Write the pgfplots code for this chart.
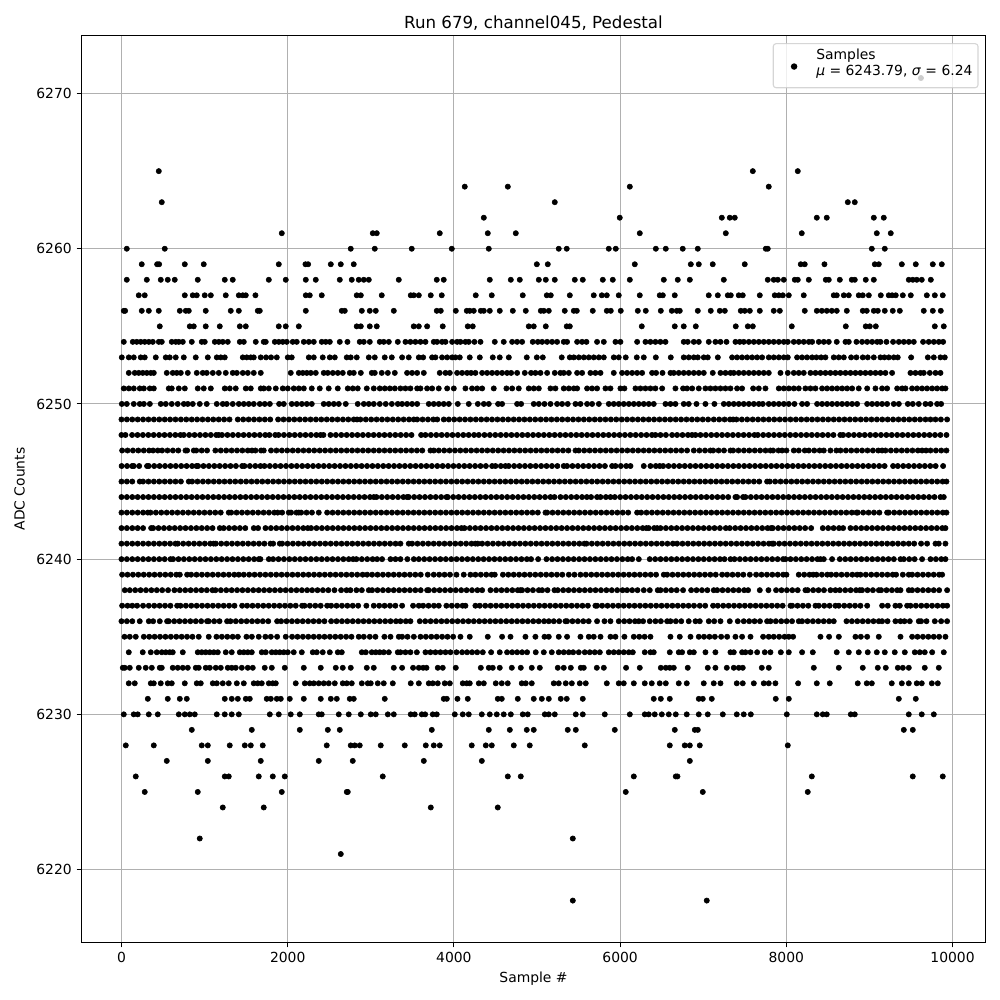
\documentclass[border=0pt]{standalone}
\usepackage{fontspec}
\setmainfont{DejaVu Sans}
\usepackage{pgfplots}
\pgfplotsset{compat=1.18}
\pgfplotsset{s/.style={only marks,mark=*,mark size=1.9pt,black,forget plot},table/header=false,table/x index=0}
\begin{document}
\begin{tikzpicture}
\useasboundingbox (0,0) rectangle (720pt,720pt);
\begin{axis}[at={(58.68pt,41.4pt)},anchor=south west,scale only axis,width=650.88pt,height=653.04pt,
xmin=-481,xmax=10397,ymin=6215.3,ymax=6273.74,scaled ticks=false,
xtick={0,2000,4000,6000,8000,10000},ytick={6220,6230,6240,6250,6260,6270},
tick label style={font=\fontsize{10}{12}\selectfont,/pgf/number format/assume math mode=true,/pgf/number format/1000 sep={}},
grid=major,grid style={color=black!31,line width=0.72pt},
axis line style={line width=0.72pt},tick style={line width=0.72pt,black},tick align=outside,tick pos=lower,major tick length=3.5pt,
title={\fontsize{12}{14}\selectfont Run 679, channel045, Pedestal},title style={yshift=-6pt},
xlabel={\fontsize{10}{12}\selectfont Sample \#},ylabel={\fontsize{10}{12}\selectfont ADC Counts},ylabel style={yshift=1.4pt},
legend cell align=left,
legend image code/.code={\path[draw=none] (0pt,0pt) -- (27pt,0pt);\path[draw=none,fill=black] plot[mark=*,mark size=1.9pt,mark options={draw=black,fill=black,opacity=1,fill opacity=1,draw opacity=1}] coordinates {(13pt,-0.6pt)};},
legend style={at={(1,1)},anchor=north east,xshift=-5pt,yshift=-5.5pt,draw=black!20,line width=0.8pt,rounded corners=2pt,fill=white,fill opacity=0.8,draw opacity=0.8,text opacity=1,font=\fontsize{10}{12}\selectfont,inner xsep=2pt,inner ysep=0.8pt,nodes={text depth=11.6pt}}]
\addlegendimage{only marks,mark=*,mark size=1.9pt,black}
\addlegendentry{\begin{tabular}{@{}l@{}}Samples\\\textit{μ} = 6243.79, \textit{σ} = 6.24\end{tabular}}
\addplot[s] table[y expr=6271]{
9620
};
\addplot[s] table[y expr=6265]{
449
7597
8138
};
\addplot[s] table[y expr=6264]{
4131
4649
6117
7789
};
\addplot[s] table[y expr=6263]{
485
5214
8740
8824
};
\addplot[s] table[y expr=6262]{
4360
5996
7224
7320
7380
8367
8487
9053
9173
};
\addplot[s] table[y expr=6261]{
1929
3024
3072
3830
4408
4745
6237
7272
8186
9089
9257
};
\addplot[s] table[y expr=6260]{
64
521
2759
3048
3493
3975
4420
5262
5358
5864
5948
6430
6550
6754
6935
7753
7777
9029
9185
};
\addplot[s] table[y expr=6259]{
244
429
453
762
990
1893
2214
2246
2519
2639
2795
4998
5130
6177
6851
6947
7115
7500
8174
8222
8459
9065
9113
9390
9558
9763
9871
};
\addplot[s] table[y expr=6258]{
64
305
473
557
641
918
1243
1339
1773
1977
2218
2338
2627
2771
2855
2916
2976
3337
3794
3878
4432
4685
4793
5022
5106
5214
5455
5551
5792
5912
6117
6526
6694
6839
7248
7777
7849
7898
7970
8102
8138
8271
8475
8511
8644
8788
8824
8956
9053
9474
9522
9570
9630
9739
};
\addplot[s] table[y expr=6257]{
208
280
762
858
906
1002
1075
1255
1412
1460
1496
1612
2218
2266
2410
2831
2880
3132
3481
3517
3578
3722
3854
4263
4456
4829
5118
5166
5395
5683
5780
5840
5984
6237
6477
6514
6658
7067
7176
7296
7332
7428
7476
7681
7861
7910
7958
8030
8210
8571
8607
8692
8752
8872
8920
8993
9137
9233
9273
9317
9402
9498
9691
9787
9883
};
\addplot[s] table[y expr=6256]{
28
44
244
329
449
702
774
810
1014
1315
1412
1640
1664
2218
2651
2687
2892
2988
3060
3277
3794
3842
4023
4155
4191
4239
4324
4360
4432
4552
4709
4865
5046
5082
5142
5334
5443
5479
5671
5840
5888
6008
6213
6309
6490
6622
6682
6718
6935
7091
7200
7260
7452
7500
7561
7681
7849
7922
8222
8367
8427
8487
8547
8607
8728
8920
8968
9053
9101
9185
9281
9366
9654
9763
9859
};
\addplot[s] table[y expr=6255]{
461
822
870
1014
1183
1424
1496
1893
1977
2134
2831
2880
2988
3072
3517
3578
3678
3866
4167
4227
4901
4961
5106
5358
5395
6261
6658
6766
6911
7392
7537
7597
8066
8716
8956
9005
9077
9787
9895
};
\addplot[s] table[y expr=6254]{
28
136
184
232
280
329
377
449
485
605
653
690
738
846
966
1002
1123
1171
1219
1279
1424
1472
1616
1712
1736
1845
1893
1941
1989
2061
2109
2194
2254
2314
2410
2458
2507
2627
2719
2867
2916
2988
3108
3156
3217
3325
3417
3477
3537
3598
3658
3758
3798
3858
3899
3979
4039
4079
4139
4179
4247
4320
4492
4600
4701
4761
4821
4949
5010
5062
5122
5182
5242
5322
5362
5483
5543
5595
5723
5804
5944
6004
6205
6305
6365
6425
6485
6546
6766
6814
6887
6947
7067
7147
7208
7280
7388
7440
7488
7549
7609
7669
7729
7789
7849
7910
7970
8018
8090
8150
8210
8271
8311
8391
8451
8511
8607
8712
8752
8844
8912
8973
9033
9093
9133
9205
9285
9354
9414
9474
9534
9646
9714
9775
9835
9887
};
\addplot[s] table[y expr=6253]{
4
88
148
232
280
413
533
581
653
750
894
1039
1147
1195
1243
1460
1508
1556
1592
1676
1740
1800
1869
2001
2049
2254
2314
2422
2507
2567
2711
2759
2831
2976
3048
3168
3253
3377
3457
3578
3630
3738
3778
3858
3919
3979
4019
4071
4191
4312
4468
4552
4661
4877
4998
5070
5298
5395
5443
5503
5563
5623
5683
5744
5804
5924
5984
6068
6201
6285
6430
6610
6766
6826
6887
6935
7007
7055
7176
7348
7408
7468
7529
7589
7649
7709
7789
7849
7910
7970
8018
8130
8190
8250
8311
8363
8419
8471
8571
8631
8692
8780
8844
8920
8980
9053
9133
9181
9233
9293
9341
9502
9703
9775
9855
9907
};
\addplot[s] table[y expr=6252]{
88
160
208
256
305
353
389
545
617
665
714
798
906
978
1026
1099
1171
1255
1339
1388
1460
1520
1592
1676
2037
2134
2182
2230
2278
2338
2434
2482
2543
2603
2663
2747
2795
2880
3012
3048
3132
3205
3289
3437
3497
3558
3638
3830
3899
3951
4039
4099
4159
4207
4259
4340
4400
4460
4520
4580
4640
4689
4761
4853
4929
4981
5042
5122
5214
5282
5322
5383
5483
5543
5643
5703
5764
5924
6024
6084
6145
6205
6265
6385
6433
6510
6606
6646
6706
6766
6826
6887
6947
7007
7115
7208
7268
7328
7368
7428
7488
7549
7609
7669
7729
7789
7930
8018
8090
8150
8210
8291
8351
8411
8471
8531
8591
8651
8712
8772
8832
8892
8952
9013
9073
9133
9193
9273
9494
9554
9614
9654
9727
9795
9855
};
\addplot[s] table[y expr=6251]{
28
88
148
220
269
341
389
569
605
690
762
918
990
1075
1243
1303
1375
1496
1556
1676
1712
1773
1857
1941
2001
2073
2134
2194
2290
2386
2494
2603
2723
2783
2843
2952
3036
3108
3168
3229
3289
3357
3417
3477
3558
3598
3678
3738
3818
3919
3999
4139
4219
4280
4340
4480
4632
4701
4781
4901
4961
5022
5162
5222
5322
5383
5443
5483
5603
5663
5723
5824
5884
6004
6052
6185
6245
6305
6365
6425
6506
6666
6758
6806
6867
6947
7027
7087
7147
7208
7268
7328
7408
7468
7601
7669
7749
7910
7970
8030
8090
8150
8230
8291
8351
8431
8491
8551
8612
8672
8732
8792
8872
8973
9073
9153
9213
9334
9394
9434
9514
9574
9634
9694
9755
9815
9875
9915
};
\addplot[s] table[y expr=6250]{
4
64
148
220
269
341
473
533
605
677
750
798
858
942
1026
1147
1219
1267
1339
1412
1472
1532
1592
1664
1724
1785
1897
1953
2049
2109
2170
2230
2290
2434
2494
2555
2615
2699
2843
2916
2976
3036
3108
3180
3253
3325
3377
3437
3497
3558
3698
3758
3818
3878
3939
4047
4179
4288
4360
4420
4532
4580
4761
4809
4961
5022
5090
5162
5242
5302
5370
5463
5523
5603
5663
5744
5864
5924
5984
6044
6105
6165
6225
6285
6345
6405
6546
6606
6666
6766
6826
6919
7027
7135
7248
7308
7368
7428
7488
7549
7609
7669
7717
7789
7849
7910
7970
8030
8098
8190
8250
8371
8431
8491
8551
8612
8672
8732
8792
8852
8973
9033
9093
9153
9213
9293
9354
9462
9522
9594
9675
9735
9815
9863
};
\addplot[s] table[y expr=6249]{
0
65
130
195
260
325
390
455
520
585
650
715
780
845
910
975
1040
1105
1170
1235
1300
1400
1465
1530
1595
1660
1725
1790
1885
1950
2015
2080
2145
2210
2275
2340
2405
2470
2535
2600
2665
2730
2795
2835
2875
2940
3005
3070
3135
3200
3265
3330
3395
3460
3517
3558
3623
3688
3753
3800
3878
3939
4004
4069
4134
4199
4264
4329
4394
4459
4524
4589
4654
4719
4784
4849
4914
4979
5044
5109
5174
5239
5304
5369
5434
5499
5564
5629
5694
5759
5824
5889
5954
6019
6084
6149
6214
6279
6344
6409
6474
6539
6604
6669
6734
6799
6864
6929
6994
7059
7127
7192
7257
7322
7360
7400
7465
7530
7595
7660
7725
7790
7855
7920
7985
8050
8115
8180
8245
8310
8375
8440
8505
8570
8635
8700
8765
8830
8895
8960
9025
9090
9155
9220
9285
9350
9415
9480
9545
9610
9675
9735
9795
9860
9935
};
\addplot[s] table[y expr=6248]{
0
48
128
193
258
323
388
453
518
583
648
710
750
815
880
945
1010
1075
1140
1170
1210
1275
1340
1405
1470
1535
1600
1665
1730
1780
1850
1890
1955
2020
2085
2150
2215
2280
2345
2395
2430
2515
2580
2645
2710
2775
2840
2905
2970
3035
3100
3165
3230
3295
3360
3425
3490
3606
3658
3723
3788
3853
3918
3983
4048
4113
4178
4243
4300
4368
4433
4498
4563
4628
4693
4758
4823
4888
4953
5018
5083
5148
5213
5278
5343
5408
5473
5538
5603
5668
5733
5798
5863
5928
5993
6058
6123
6188
6253
6318
6383
6425
6486
6551
6626
6686
6751
6816
6866
6907
6967
7032
7097
7162
7227
7292
7357
7422
7487
7552
7617
7657
7722
7787
7852
7917
7982
8047
8112
8177
8242
8307
8372
8437
8502
8567
8650
8684
8749
8814
8879
8944
9009
9074
9139
9204
9269
9334
9399
9464
9529
9594
9659
9724
9789
9854
9927
};
\addplot[s] table[y expr=6247]{
8
73
138
203
268
333
381
437
489
554
619
684
770
790
870
900
965
1030
1130
1195
1260
1325
1390
1455
1520
1570
1612
1680
1712
1800
1865
1930
1995
2060
2125
2190
2255
2320
2385
2450
2515
2580
2645
2710
2775
2840
2905
2970
3035
3100
3165
3230
3295
3360
3425
3490
3555
3620
3718
3758
3818
3883
3948
4013
4078
4143
4208
4273
4338
4403
4468
4533
4598
4663
4728
4793
4858
4923
4988
5053
5118
5183
5248
5313
5378
5463
5503
5568
5633
5698
5763
5828
5893
5958
6023
6088
6153
6218
6283
6348
6413
6478
6543
6608
6673
6738
6806
6887
6955
7022
7087
7120
7185
7250
7328
7360
7425
7490
7555
7620
7685
7750
7809
7841
7906
7950
8002
8090
8150
8222
8271
8336
8401
8451
8531
8603
8652
8717
8782
8847
8912
8977
9042
9107
9153
9193
9258
9323
9388
9453
9518
9583
9634
9682
9735
9800
9865
9927
};
\addplot[s] table[y expr=6246]{
2
67
128
148
213
308
329
394
459
524
589
654
719
784
849
902
922
987
1052
1117
1182
1247
1312
1377
1452
1480
1545
1610
1672
1720
1785
1850
1915
1980
2045
2110
2175
2240
2305
2370
2435
2500
2565
2630
2695
2760
2825
2890
2955
3020
3085
3150
3215
3280
3345
3410
3475
3540
3605
3670
3735
3800
3865
3930
3995
4060
4125
4190
4255
4320
4385
4460
4500
4565
4620
4660
4725
4790
4855
4920
4985
5050
5115
5180
5245
5322
5362
5427
5492
5557
5622
5687
5752
5817
5904
5944
6009
6074
6125
6285
6365
6430
6477
6518
6583
6648
6713
6778
6843
6908
6973
7038
7103
7168
7233
7298
7363
7428
7493
7558
7623
7688
7753
7818
7883
7948
8013
8078
8143
8208
8273
8338
8403
8468
8533
8598
8663
8728
8793
8858
8923
8988
9053
9118
9183
9285
9342
9407
9472
9537
9602
9667
9732
9797
9887
};
\addplot[s] table[y expr=6245]{
0
65
130
220
260
325
390
455
520
585
650
715
810
850
915
980
1045
1110
1175
1240
1305
1370
1435
1500
1565
1630
1695
1760
1825
1890
1955
2020
2085
2150
2215
2280
2345
2410
2475
2540
2605
2670
2735
2800
2865
2930
2995
3060
3125
3190
3255
3320
3385
3450
3515
3580
3645
3710
3775
3840
3905
3970
4035
4100
4165
4230
4295
4360
4425
4490
4555
4620
4685
4750
4815
4880
4945
5010
5075
5140
5205
5270
5335
5400
5465
5530
5595
5660
5725
5790
5855
5920
5985
6050
6115
6180
6245
6310
6375
6440
6505
6570
6635
6700
6765
6830
6895
6960
7025
7090
7155
7220
7285
7350
7415
7480
7545
7610
7675
7769
7801
7866
7931
7996
8061
8126
8191
8256
8321
8386
8451
8516
8581
8646
8711
8776
8841
8906
8971
9036
9101
9166
9231
9296
9361
9426
9491
9556
9621
9686
9751
9816
9881
9927
};
\addplot[s] table[y expr=6244]{
0
65
130
195
260
325
390
455
520
585
650
715
780
845
910
975
1040
1105
1170
1235
1300
1365
1430
1495
1560
1625
1690
1755
1820
1885
1950
2015
2080
2145
2210
2275
2340
2405
2470
2535
2600
2665
2730
2795
2860
2925
2990
3036
3068
3133
3198
3263
3328
3393
3437
3457
3522
3587
3652
3717
3782
3847
3910
3927
3992
4057
4122
4187
4252
4317
4382
4447
4512
4577
4642
4707
4772
4837
4902
4967
5032
5097
5162
5210
5282
5347
5412
5477
5542
5600
5651
5723
5764
5829
5884
5936
6001
6066
6131
6196
6261
6326
6391
6456
6521
6586
6651
6716
6781
6846
6911
6976
7041
7106
7171
7236
7301
7388
7408
7480
7508
7573
7638
7703
7768
7833
7898
7963
8028
8093
8158
8223
8288
8353
8418
8483
8548
8613
8678
8743
8808
8873
8938
9003
9068
9133
9198
9263
9328
9393
9458
9523
9588
9653
9718
9783
9855
9895
};
\addplot[s] table[y expr=6243]{
0
65
130
195
260
317
349
414
479
544
609
674
739
804
869
934
999
1064
1129
1194
1291
1320
1385
1450
1515
1580
1645
1710
1775
1840
1880
1933
2013
2041
2106
2134
2162
2227
2292
2374
2475
2540
2605
2670
2735
2800
2865
2930
2995
3060
3125
3190
3255
3320
3385
3450
3515
3580
3645
3710
3775
3840
3905
3970
4035
4100
4165
4230
4295
4360
4425
4490
4555
4620
4685
4750
4815
4880
4945
5010
5102
5122
5187
5252
5317
5382
5447
5512
5577
5642
5707
5772
5837
5902
5967
6032
6097
6205
6253
6318
6383
6448
6513
6578
6643
6708
6773
6838
6903
6968
7033
7098
7163
7228
7293
7358
7423
7488
7553
7618
7683
7748
7813
7878
7943
8008
8073
8138
8203
8268
8333
8398
8463
8528
8593
8658
8723
8788
8844
8860
8925
8990
9055
9120
9213
9233
9298
9363
9428
9493
9558
9623
9688
9753
9818
9883
9927
};
\addplot[s] table[y expr=6242]{
0
65
130
195
260
357
381
446
511
576
641
706
771
836
901
966
1031
1096
1183
1230
1295
1360
1425
1490
1592
1644
1733
1798
1863
1928
1993
2058
2123
2188
2242
2282
2347
2412
2477
2542
2607
2672
2737
2802
2867
2932
2997
3062
3127
3192
3257
3322
3387
3452
3517
3582
3647
3712
3777
3842
3907
3972
4037
4091
4127
4192
4257
4322
4387
4452
4517
4582
4647
4712
4777
4842
4907
4972
5037
5102
5167
5232
5297
5362
5427
5492
5557
5622
5687
5752
5817
5882
5947
6012
6077
6142
6207
6272
6317
6345
6410
6445
6486
6551
6616
6681
6746
6811
6876
6941
7006
7071
7136
7201
7272
7320
7385
7450
7515
7580
7645
7710
7775
7817
7837
7902
7967
8032
8097
8162
8227
8299
8439
8504
8569
8634
8684
8772
8837
8902
8967
9032
9097
9162
9227
9292
9357
9422
9487
9552
9617
9682
9747
9812
9877
9915
};
\addplot[s] table[y expr=6241]{
0
65
130
195
260
325
390
455
520
585
650
678
743
808
873
938
1003
1068
1110
1135
1200
1265
1330
1395
1460
1525
1590
1655
1720
1793
1825
1905
1933
1998
2063
2128
2193
2258
2323
2388
2453
2518
2583
2648
2713
2778
2843
2908
2973
3038
3103
3168
3233
3298
3357
3457
3497
3562
3627
3692
3757
3822
3887
3952
4017
4082
4147
4212
4259
4288
4340
4405
4470
4535
4600
4665
4730
4795
4860
4925
4990
5055
5120
5185
5250
5315
5380
5445
5510
5571
5595
5660
5725
5790
5855
5920
5985
6050
6115
6180
6245
6310
6375
6440
6505
6570
6635
6686
6751
6816
6881
6946
7011
7076
7141
7206
7271
7336
7401
7466
7531
7596
7661
7726
7791
7829
7849
7914
7979
8044
8109
8174
8239
8304
8369
8434
8499
8564
8629
8694
8759
8824
8889
8954
9019
9084
9149
9214
9279
9344
9409
9474
9539
9622
9694
9795
9835
9915
};
\addplot[s] table[y expr=6240]{
0
65
130
195
260
325
390
455
520
590
621
686
751
816
881
946
1011
1076
1141
1206
1271
1336
1401
1466
1531
1596
1652
1672
1773
1825
1890
1955
2020
2085
2150
2215
2280
2345
2410
2475
2540
2605
2670
2735
2787
2827
2892
2957
3022
3076
3136
3237
3297
3357
3440
3518
3578
3643
3708
3773
3838
3903
3968
4033
4098
4163
4228
4293
4358
4423
4488
4553
4618
4683
4748
4813
4878
4929
5014
5114
5182
5247
5312
5377
5442
5507
5572
5637
5702
5767
5832
5897
5962
6027
6092
6145
6225
6357
6422
6487
6552
6617
6682
6747
6812
6877
6942
7007
7072
7137
7202
7256
7328
7376
7441
7506
7571
7636
7701
7766
7831
7896
7961
7990
8050
8115
8180
8245
8310
8375
8411
8451
8551
8644
8709
8774
8839
8904
8969
9034
9099
9164
9229
9294
9374
9414
9479
9544
9634
9735
9800
9865
9915
};
\addplot[s] table[y expr=6239]{
8
73
138
203
268
333
398
463
528
593
660
702
790
838
903
968
1033
1098
1163
1228
1293
1358
1412
1472
1537
1602
1667
1732
1797
1862
1927
1992
2057
2122
2187
2252
2317
2382
2447
2512
2577
2642
2707
2772
2837
2902
2956
3016
3081
3146
3211
3276
3341
3406
3471
3536
3601
3686
3758
3823
3888
3953
4031
4119
4199
4259
4324
4389
4454
4492
4590
4655
4720
4785
4850
4915
4980
5045
5110
5175
5240
5305
5383
5451
5523
5588
5653
5718
5783
5848
5913
5978
6043
6108
6173
6238
6303
6368
6433
6526
6566
6631
6696
6761
6826
6891
6956
7021
7086
7151
7228
7288
7353
7418
7483
7561
7637
7702
7767
7832
7897
7962
8002
8150
8215
8280
8323
8363
8428
8493
8539
8600
8665
8730
8795
8852
8892
8957
9022
9087
9152
9217
9281
9321
9402
9474
9514
9579
9644
9709
9774
9839
9875
};
\addplot[s] table[y expr=6238]{
40
100
165
230
295
360
425
490
561
637
702
767
832
897
962
1027
1095
1131
1196
1261
1326
1391
1456
1521
1586
1651
1716
1781
1846
1911
1976
2041
2106
2171
2234
2294
2359
2424
2489
2563
2643
2708
2755
2827
2892
2976
3016
3081
3146
3211
3276
3341
3406
3471
3536
3601
3678
3698
3763
3828
3893
3958
4023
4088
4153
4218
4283
4340
4440
4508
4573
4638
4703
4768
4801
4821
4886
4951
5022
5062
5127
5210
5250
5315
5380
5445
5510
5575
5640
5705
5770
5835
5900
5965
6030
6084
6145
6210
6285
6357
6453
6486
6551
6616
6681
6758
6855
6920
6985
7050
7127
7168
7233
7298
7363
7428
7493
7540
7681
7785
7877
7942
8007
8072
8137
8230
8258
8323
8388
8453
8531
8591
8644
8709
8774
8839
8884
8912
8977
9042
9113
9141
9206
9271
9334
9374
9474
9514
9579
9644
9709
9774
9839
9935
};
\addplot[s] table[y expr=6237]{
8
73
130
188
260
329
394
459
524
589
670
710
775
840
905
970
1035
1100
1165
1230
1295
1360
1452
1512
1577
1642
1707
1772
1837
1902
1967
2032
2097
2174
2202
2267
2332
2397
2475
2523
2588
2653
2718
2783
2848
2947
3036
3101
3166
3231
3296
3377
3509
3578
3630
3695
3760
3818
3910
3975
4040
4105
4139
4259
4312
4377
4442
4507
4572
4637
4702
4767
4832
4897
4962
5027
5092
5157
5222
5287
5352
5417
5482
5547
5612
5703
5723
5784
5849
5914
5979
6044
6109
6174
6239
6304
6369
6434
6499
6564
6629
6694
6759
6824
6889
6959
7024
7119
7176
7241
7306
7371
7436
7501
7566
7631
7696
7761
7826
7891
7956
8050
8070
8135
8200
8265
8351
8391
8456
8521
8591
8632
8697
8762
8827
8892
8973
9153
9221
9313
9366
9454
9494
9559
9624
9689
9754
9819
9884
9935
};
\addplot[s] table[y expr=6236]{
0
65
130
220
329
381
461
549
569
634
699
764
829
894
959
1030
1050
1115
1180
1271
1311
1376
1441
1506
1571
1636
1701
1766
1873
1921
1986
2051
2116
2181
2246
2311
2376
2442
2523
2588
2653
2718
2783
2848
2913
2978
3043
3108
3173
3238
3303
3357
3422
3477
3590
3655
3720
3785
3850
3915
3980
4045
4110
4175
4240
4305
4370
4435
4500
4565
4630
4695
4760
4825
4890
4955
5020
5085
5142
5202
5267
5342
5362
5427
5492
5557
5622
5723
5812
5884
5984
6049
6114
6179
6225
6277
6357
6425
6490
6566
6606
6671
6736
6826
6907
6959
7067
7132
7208
7320
7416
7488
7553
7618
7683
7769
7809
7874
7939
8004
8069
8150
8190
8255
8320
8385
8450
8515
8571
8724
8789
8854
8919
8984
9049
9113
9153
9218
9313
9374
9422
9486
9594
9622
9687
9787
9863
9935
};
\addplot[s] table[y expr=6235]{
36
100
172
269
334
399
464
529
594
659
724
789
854
930
1050
1143
1208
1273
1338
1400
1504
1569
1652
1732
1797
1873
1977
2053
2118
2183
2248
2313
2378
2443
2508
2573
2638
2703
2768
2855
2916
2988
3056
3164
3237
3337
3377
3442
3518
3598
3663
3728
3793
3858
3923
3991
4079
4191
4408
4580
4681
4861
4981
5090
5142
5262
5362
5523
5623
5683
5764
5884
5944
6052
6165
6230
6295
6365
6606
6718
6847
6947
7010
7075
7140
7216
7288
7388
7468
7569
7721
7789
7849
7914
7979
8030
8082
8411
8515
8632
8832
8897
8973
9113
9374
9514
9579
9644
9709
9774
9839
9915
};
\addplot[s] table[y expr=6234]{
88
256
353
425
485
533
581
617
738
918
966
1014
1063
1111
1159
1255
1327
1424
1472
1520
1568
1688
1736
1809
1857
1905
1953
2001
2073
2170
2302
2350
2422
2507
2603
2651
2892
2940
3012
3060
3108
3156
3217
3325
3357
3417
3477
3554
3658
3718
3778
3838
3899
3959
4031
4099
4159
4219
4280
4348
4448
4552
4640
4701
4761
4821
4881
4985
5082
5178
5262
5322
5383
5435
5503
5575
5635
5695
5756
5864
5924
5984
6044
6105
6153
6297
6365
6405
6598
6706
6746
6839
6887
7027
7147
7328
7368
7468
7508
7569
7649
7741
7809
7934
8030
8190
8319
8607
8752
8872
8980
9089
9185
9305
9426
9546
9606
9666
9755
9895
};
\addplot[s] table[y expr=6233]{
16
40
100
208
292
365
461
485
617
677
738
798
894
930
1014
1063
1135
1195
1279
1327
1375
1448
1520
1580
1724
1809
1965
2194
2398
2579
2663
2759
2952
3036
3277
3377
3509
3578
3630
3670
3806
3866
4023
4324
4420
4468
4552
4697
4805
4937
5034
5250
5322
5407
5527
5563
5720
5804
6072
6237
6490
6550
6598
6646
6814
7055
7147
7284
7368
7428
7476
7705
7789
8331
8632
8920
9101
9197
9342
9402
9474
9666
9835
};
\addplot[s] table[y expr=6232]{
88
160
353
389
473
557
605
762
906
954
1099
1147
1219
1291
1388
1472
1592
1640
1688
1773
1821
1857
2097
2206
2266
2314
2374
2434
2494
2567
2663
2711
2771
2892
2964
3000
3084
3156
3265
3481
3578
3698
3746
3806
3890
3951
4107
4155
4191
4300
4360
4504
4576
4648
4817
4865
4937
5202
5262
5346
5419
5515
5587
5840
5984
6044
6165
6297
6381
6477
6550
6706
6802
7007
7127
7208
7404
7476
7609
7729
7789
7869
8142
8367
8523
8860
8968
9029
9269
9390
9474
9570
9630
9751
9823
};
\addplot[s] table[y expr=6231]{
317
557
702
786
1243
1327
1400
1496
1544
1748
1797
1869
1917
2025
2194
2398
2519
2591
2747
2795
3168
3878
3915
4043
4167
4528
4576
4769
4961
5058
5142
5286
5358
5551
6405
6490
6598
6947
6995
7103
7873
8030
9354
9558
};
\addplot[s] table[y expr=6230]{
28
148
196
329
437
690
762
822
882
1147
1243
1327
1412
1785
1893
2037
2146
2374
2410
2615
2735
2880
3000
3060
3205
3277
3481
3529
3614
3654
3746
3794
4011
4107
4179
4336
4432
4516
4600
4685
4829
4889
5094
5142
5214
5467
5551
5816
6117
6297
6345
6417
6502
6586
6670
6802
6947
7055
7236
7404
7488
7573
8006
8367
8439
8487
8776
8824
9474
9630
9775
};
\addplot[s] table[y expr=6229]{
846
1568
2146
2483
2627
3734
4420
4673
4877
4961
5370
5467
5936
6658
6899
6935
9414
9522
};
\addplot[s] table[y expr=6228]{
52
389
966
1039
1303
1484
1556
1700
2470
2759
2807
2867
3120
3409
3662
3758
3830
4215
4384
4456
4721
4913
5575
6598
6778
6839
6959
8018
};
\addplot[s] table[y expr=6227]{
545
1039
1676
2374
2783
3638
4336
6839
};
\addplot[s] table[y expr=6226]{
172
1243
1291
1652
1821
1965
3144
4649
4805
6165
6670
6690
8307
9522
9883
};
\addplot[s] table[y expr=6225]{
280
918
1929
2711
2723
6068
6995
8258
};
\addplot[s] table[y expr=6224]{
1219
1712
3722
4528
};
\addplot[s] table[y expr=6222]{
942
5431
};
\addplot[s] table[y expr=6221]{
2639
};
\addplot[s] table[y expr=6218]{
5431
7043
};
\end{axis}
\end{tikzpicture}
\end{document}
